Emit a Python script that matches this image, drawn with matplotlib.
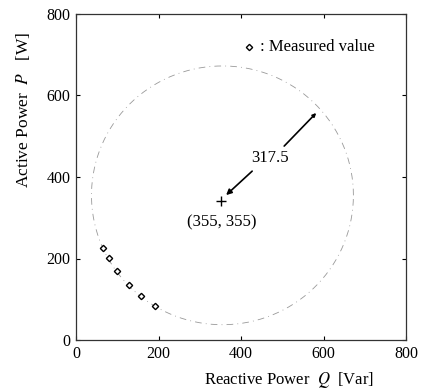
import numpy as np
import matplotlib
matplotlib.use('Agg')
import matplotlib.pyplot as plt

plt.rcParams['font.family'] = ['Liberation Serif', 'DejaVu Serif']
plt.rcParams['mathtext.fontset'] = 'stix'

# Данные
center_q, center_p = 355, 355
radius = 317.5
meas_q = [66, 79, 100, 129, 158, 192]
meas_p = [225, 201, 169, 135, 108, 83]
arrow_tip = (587, 562)
arrow_base = (359, 351)
cross_pos = (352, 340)

fig = plt.figure(figsize=(4.24, 3.89), dpi=100)
ax = fig.add_axes([76 / 424, 1 - 340 / 389, 330 / 424, 326 / 389])

theta = np.linspace(0, 2 * np.pi, 400)
ax.plot(center_q + radius * np.cos(theta), center_p + radius * np.sin(theta),
        color='#999999', lw=0.6, linestyle=(0, (8, 5, 1, 5)))

ax.plot(meas_q, meas_p, linestyle='none', marker='D', markersize=3.2,
        markerfacecolor='white', markeredgecolor='black', markeredgewidth=1)

ax.plot(*cross_pos, marker='+', color='black', markersize=7, mew=1)

# стрелка радиуса с разрывом под подпись
lab_q, lab_p = 470, 447
ax.annotate('', xy=arrow_base, xytext=(lab_q - 38, lab_p - 28),
            arrowprops=dict(arrowstyle='-|>', color='black', lw=1.2, mutation_scale=8))
ax.annotate('', xy=arrow_tip, xytext=(lab_q + 30, lab_p + 24),
            arrowprops=dict(arrowstyle='-|>', color='black', lw=1.2, mutation_scale=5))
ax.text(lab_q, lab_p, '317.5', ha='center', va='center', fontsize=12)
ax.text(354, 288, '(355, 355)', ha='center', va='center', fontsize=12)

ax.plot(420, 718, linestyle='none', marker='D', markersize=3.2,
        markerfacecolor='white', markeredgecolor='black', markeredgewidth=1)
ax.text(446, 718, ': Measured value', ha='left', va='center', fontsize=12)

ax.set_xlim(0, 800)
ax.set_ylim(0, 800)
ax.set_xticks([0, 200, 400, 600, 800])
ax.set_yticks([0, 200, 400, 600, 800])
ax.tick_params(direction='in', top=True, right=True, length=3, width=0.8,
               labelsize=11.5, pad=4)
for s in ax.spines.values():
    s.set_linewidth(0.9)
    s.set_color('#333333')

ax.set_xlabel('Reactive Power  $Q$  [Var]', fontsize=12)
ax.set_ylabel('Active Power  $P$   [W]', fontsize=12.5)
ax.xaxis.set_label_coords(0.645, -0.092)
ax.yaxis.set_label_coords(-0.133, 0.705)

fig.savefig('out.png', dpi=100)
